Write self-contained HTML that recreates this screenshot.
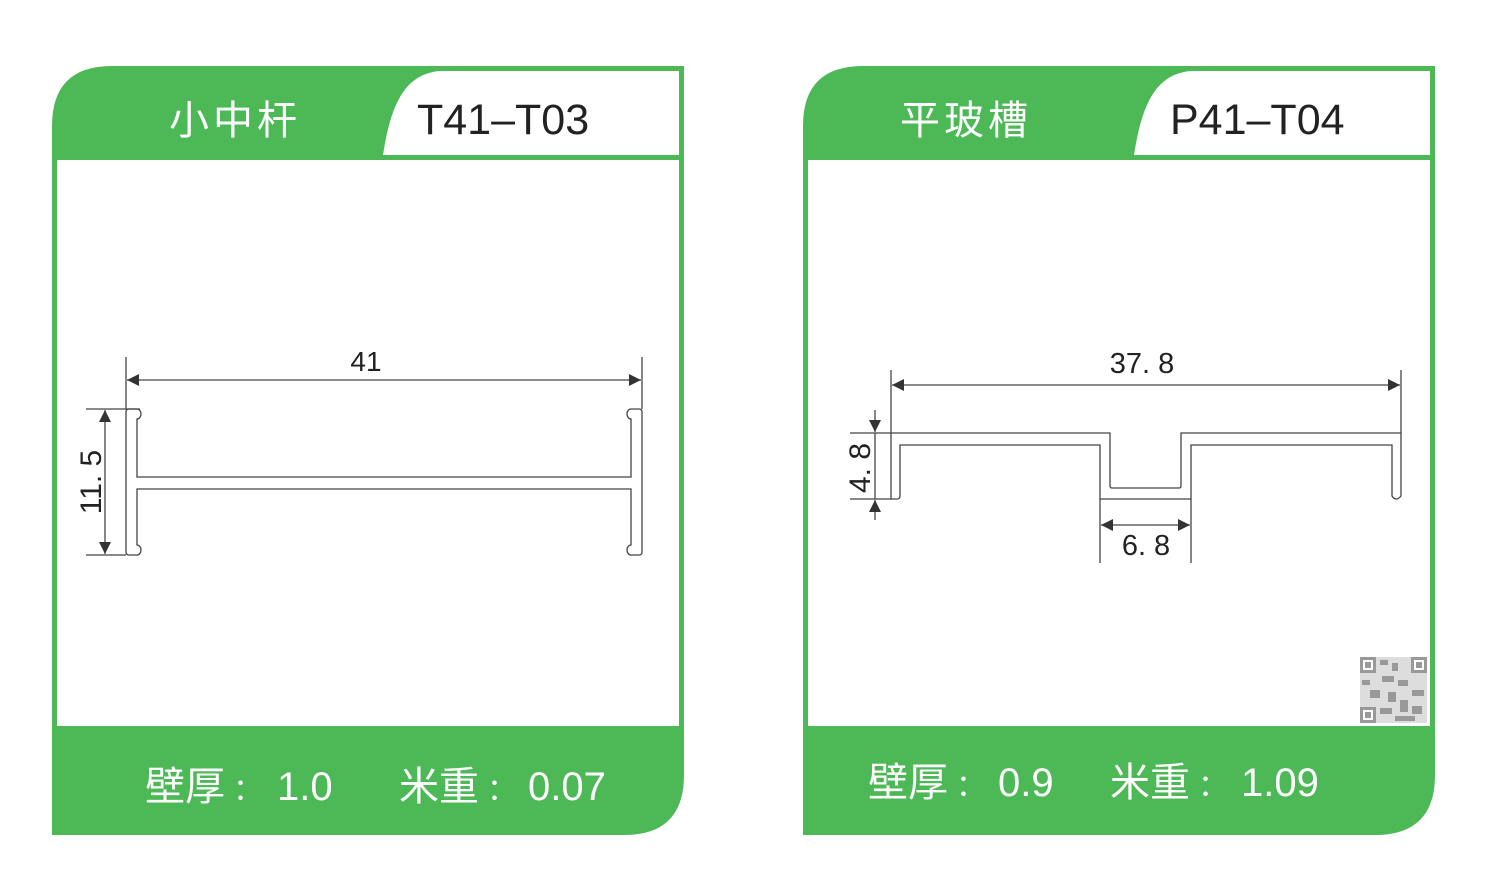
<!DOCTYPE html>
<html><head><meta charset="utf-8"><style>
html,body{margin:0;padding:0;background:#fff;}
svg{display:block;}
.cn{font-family:"Liberation Sans","Noto Sans CJK SC",sans-serif;}
</style></head><body>
<svg width="1500" height="873" viewBox="0 0 1500 873" xmlns="http://www.w3.org/2000/svg" class="cn">
<defs>
<marker id="ar" viewBox="0 0 10 10" refX="10" refY="5" markerWidth="22" markerHeight="12" markerUnits="userSpaceOnUse" orient="auto-start-reverse"><path d="M0,0 L10,5 L0,10 Z" fill="#333"/></marker>
</defs>
<!-- LEFT CARD -->
<path d="M52,126 Q52,66 112,66 L684,66 L684,775 Q684,835 624,835 L52,835 Z" fill="#4db856"/>
<rect x="57" y="160" width="622" height="566" fill="#fff"/>
<path d="M383,155 C390,110 402,74 440,71 L679,71 L679,155 Z" fill="#fff"/>
<text x="235" y="134" font-size="40" fill="#fff" text-anchor="middle" letter-spacing="4">小中杆</text>
<text x="417" y="134" font-size="43" fill="#222">T41–T03</text>
<g fill="#fff" font-size="40">
<text x="145" y="800">壁厚</text><text x="233" y="800" font-size="30">：</text><text x="277" y="800">1.0</text>
<text x="399" y="800">米重</text><text x="487" y="800" font-size="30">：</text><text x="528" y="800">0.07</text>
</g>
<!-- left drawing -->
<g stroke="#444" stroke-width="1.3" fill="none">
<line x1="126" y1="357" x2="126" y2="409"/>
<line x1="642" y1="357" x2="642" y2="409"/>
<line x1="127" y1="380" x2="641" y2="380" marker-start="url(#ar)" marker-end="url(#ar)"/>
<line x1="86" y1="409" x2="140" y2="409"/>
<line x1="86" y1="555" x2="126" y2="555"/>
<line x1="105" y1="410" x2="105" y2="554" marker-start="url(#ar)" marker-end="url(#ar)"/>
<path d="M129,409 L137,409 A4,5 0 0 1 137,419 L137,477 L631,477 L631,419 A4,5 0 0 1 631,409 L639,409 Q642,409 642,412 L642,552 Q642,555 639,555 L631,555 A4,5 0 0 1 631,545 L631,489 L137,489 L137,545 A4,5 0 0 1 137,555 L129,555 Q126,555 126,552 L126,412 Q126,409 129,409 Z"/>
</g>
<text x="366" y="371" font-size="28" fill="#222" text-anchor="middle">41</text>
<text transform="translate(101,482) rotate(-90)" font-size="30" fill="#222" text-anchor="middle">11. 5</text>

<!-- RIGHT CARD -->
<path d="M803,126 Q803,66 863,66 L1435,66 L1435,775 Q1435,835 1375,835 L803,835 Z" fill="#4db856"/>
<rect x="808" y="160" width="622" height="566" fill="#fff"/>
<path d="M1134,155 C1141,110 1153,74 1191,71 L1430,71 L1430,155 Z" fill="#fff"/>
<text x="966" y="134" font-size="40" fill="#fff" text-anchor="middle" letter-spacing="4">平玻槽</text>
<text x="1170" y="134" font-size="43" fill="#222">P41–T04</text>
<g fill="#fff" font-size="40">
<text x="868" y="796">壁厚</text><text x="956" y="796" font-size="30">：</text><text x="998" y="796">0.9</text>
<text x="1110" y="796">米重</text><text x="1198" y="796" font-size="30">：</text><text x="1241" y="796">1.09</text>
</g>
<!-- right drawing -->
<g stroke="#444" stroke-width="1.3" fill="none">
<line x1="891" y1="370" x2="891" y2="433"/>
<line x1="1401" y1="370" x2="1401" y2="433"/>
<line x1="892" y1="385" x2="1400" y2="385" marker-start="url(#ar)" marker-end="url(#ar)"/>
<line x1="850" y1="433" x2="891" y2="433"/>
<line x1="850" y1="499" x2="891" y2="499"/>
<line x1="875" y1="410" x2="875" y2="432" marker-end="url(#ar)"/>
<line x1="875" y1="520" x2="875" y2="500" marker-end="url(#ar)"/>
<line x1="875" y1="433" x2="875" y2="499"/>
<line x1="1100" y1="499" x2="1100" y2="563"/>
<line x1="1191" y1="499" x2="1191" y2="563"/>
<line x1="1101" y1="525" x2="1190" y2="525" marker-start="url(#ar)" marker-end="url(#ar)"/>
<path d="M891,433 L1110,433 L1110,486 Q1110,488 1112,488 L1179,488 Q1181,488 1181,486 L1181,433 L1401,433 L1401,496 Q1396,502 1392,496 L1392,445 L1191,445 L1191,499 L1100,499 L1100,445 L900,445 L900,496 Q900,499 897,499 L891,499 Z"/>
</g>
<text x="1142" y="373" font-size="29" fill="#222" text-anchor="middle">37. 8</text>
<text x="1146" y="555" font-size="29" fill="#222" text-anchor="middle">6. 8</text>
<text transform="translate(870,468) rotate(-90)" font-size="30" fill="#222" text-anchor="middle">4. 8</text>
<!-- QR -->
<g fill="#999">
<rect x="1360" y="657" width="67" height="66" fill="#ddd"/>
<rect x="1360" y="657" width="16" height="16"/><rect x="1363" y="660" width="10" height="10" fill="#fff"/><rect x="1365" y="662" width="6" height="6"/>
<rect x="1411" y="657" width="16" height="16"/><rect x="1414" y="660" width="10" height="10" fill="#fff"/><rect x="1416" y="662" width="6" height="6"/>
<rect x="1360" y="707" width="16" height="16"/><rect x="1363" y="710" width="10" height="10" fill="#fff"/><rect x="1365" y="712" width="6" height="6"/>
<rect x="1380" y="660" width="8" height="5"/><rect x="1392" y="663" width="6" height="8"/><rect x="1382" y="676" width="12" height="6"/>
<rect x="1362" y="680" width="8" height="5"/><rect x="1370" y="690" width="10" height="8"/><rect x="1398" y="680" width="10" height="6"/>
<rect x="1412" y="690" width="12" height="6"/><rect x="1388" y="692" width="8" height="10"/><rect x="1380" y="708" width="12" height="6"/>
<rect x="1400" y="700" width="8" height="12"/><rect x="1412" y="706" width="10" height="8"/><rect x="1395" y="716" width="20" height="5"/>
</g>
</svg>
</body></html>
